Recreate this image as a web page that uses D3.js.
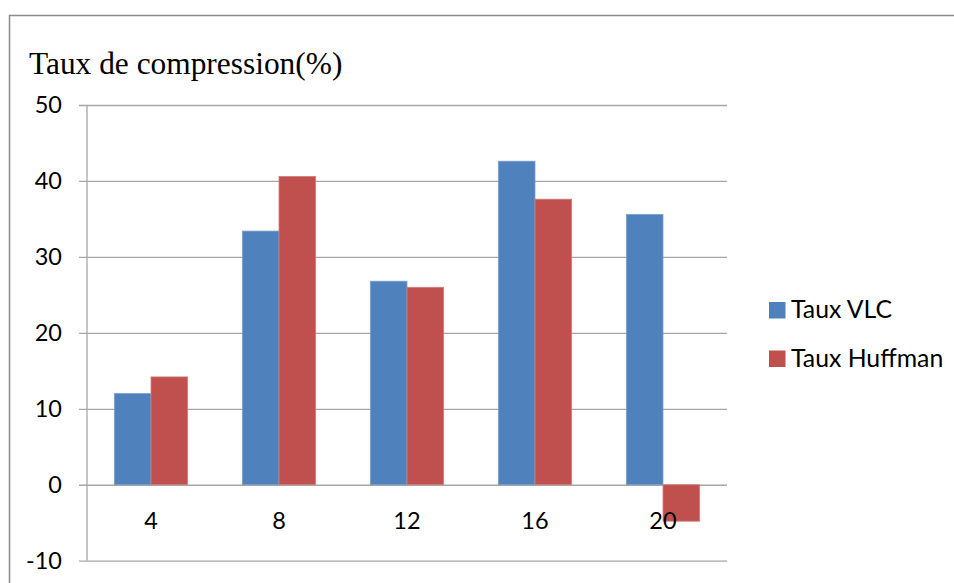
<!DOCTYPE html>
<html>
<head>
<meta charset="utf-8">
<script src="https://cdn.jsdelivr.net/npm/d3@7"></script>
<style>
  html, body { margin: 0; padding: 0; background: #fff; }
  svg { display: block; }
</style>
</head>
<body>
<svg id="chart" width="954" height="583"></svg>
<script>
// Compression rates (%) per block size, for the two coders
const categories = ["4", "8", "12", "16", "20"];
const seriesNames = ["Taux VLC", "Taux Huffman"];
const tauxVLC = [12.0, 33.4, 26.8, 42.6, 35.6];
const tauxHuffman = [14.2, 40.6, 26.0, 37.6, -4.8];
const yTicks = [-10, 0, 10, 20, 30, 40, 50];
const colors = ["#4F81BD", "#C0504D"];
const edgeColors = ["#7c9fcd", "#d0817f"];

const series = [tauxVLC, tauxHuffman];
const svg = d3.select("#chart");
const sans = "Lato, 'Open Sans', sans-serif";

// Outer frame (left and top edges)
svg.append("path")
  .attr("d", "M9.5,583 L9.5,15.5 L954,15.5")
  .attr("fill", "none")
  .attr("stroke", "#8c8c8c")
  .attr("stroke-width", 1.5);

// Title
svg.append("text")
  .attr("x", 29)
  .attr("y", 74)
  .attr("font-family", "'Liberation Serif', 'Times New Roman', serif")
  .attr("font-size", 31.4)
  .attr("fill", "#000")
  .text("Taux de compression(%)");

const plotLeft = 87, plotRight = 727;
const y = d3.scaleLinear().domain([-10, 50]).range([560.7, 105]);
const x = d3.scaleBand().domain(categories).range([plotLeft, plotRight])
  .paddingInner(0.427).paddingOuter(0.2135).align(0.5);
const xs = d3.scaleBand().domain(seriesNames).range([0, x.bandwidth()]).padding(0);

// Horizontal gridlines with tick marks and labels
const yAxis = d3.axisLeft(y)
  .tickValues(yTicks)
  .tickSize(-(plotRight - plotLeft))
  .tickSizeOuter(0)
  .tickPadding(17)
  .tickFormat(d => String(d));

const yg = svg.append("g")
  .attr("transform", `translate(${plotLeft},0)`)
  .call(yAxis);
yg.select(".domain").remove();
yg.selectAll(".tick line")
  .attr("x1", -8)
  .attr("stroke", "#a6a6a6")
  .attr("stroke-width", 1.3);
yg.selectAll(".tick text")
  .attr("font-family", sans)
  .attr("font-size", 23.5)
  .attr("fill", "#000")
  .attr("x", -25);

// Vertical value axis line
svg.append("line")
  .attr("x1", plotLeft).attr("x2", plotLeft)
  .attr("y1", y(50)).attr("y2", y(-10))
  .attr("stroke", "#a6a6a6")
  .attr("stroke-width", 1.3);

// Bars
const groups = svg.append("g").selectAll("g")
  .data(categories)
  .join("g")
  .attr("transform", d => `translate(${x(d)},0)`);

groups.selectAll("rect")
  .data((d, i) => series.map((s, k) => ({ name: seriesNames[k], k, v: s[i] })))
  .join("rect")
  .attr("x", d => xs(d.name))
  .attr("width", xs.bandwidth())
  .attr("y", d => y(Math.max(0, d.v)))
  .attr("height", d => Math.abs(y(d.v) - y(0)))
  .attr("fill", d => colors[d.k])
  .attr("stroke", d => edgeColors[d.k])
  .attr("stroke-width", 0.8);

// Category labels (drawn above the bars)
svg.append("g").selectAll("text")
  .data(categories)
  .join("text")
  .attr("x", d => x(d) + x.bandwidth() / 2)
  .attr("y", 529)
  .attr("text-anchor", "middle")
  .attr("font-family", sans)
  .attr("font-size", 23.5)
  .attr("fill", "#000")
  .text(d => d);

// Legend
const legend = svg.append("g").selectAll("g")
  .data(seriesNames)
  .join("g")
  .attr("transform", (d, i) => `translate(769,${302 + i * 48.5})`);
legend.append("rect")
  .attr("width", 16.5).attr("height", 16.5)
  .attr("fill", (d, i) => colors[i]);
legend.append("text")
  .attr("x", 22)
  .attr("y", 16.3)
  .attr("font-family", sans)
  .attr("font-size", 24.8)
  .attr("fill", "#000")
  .text(d => d);
</script>
</body>
</html>
